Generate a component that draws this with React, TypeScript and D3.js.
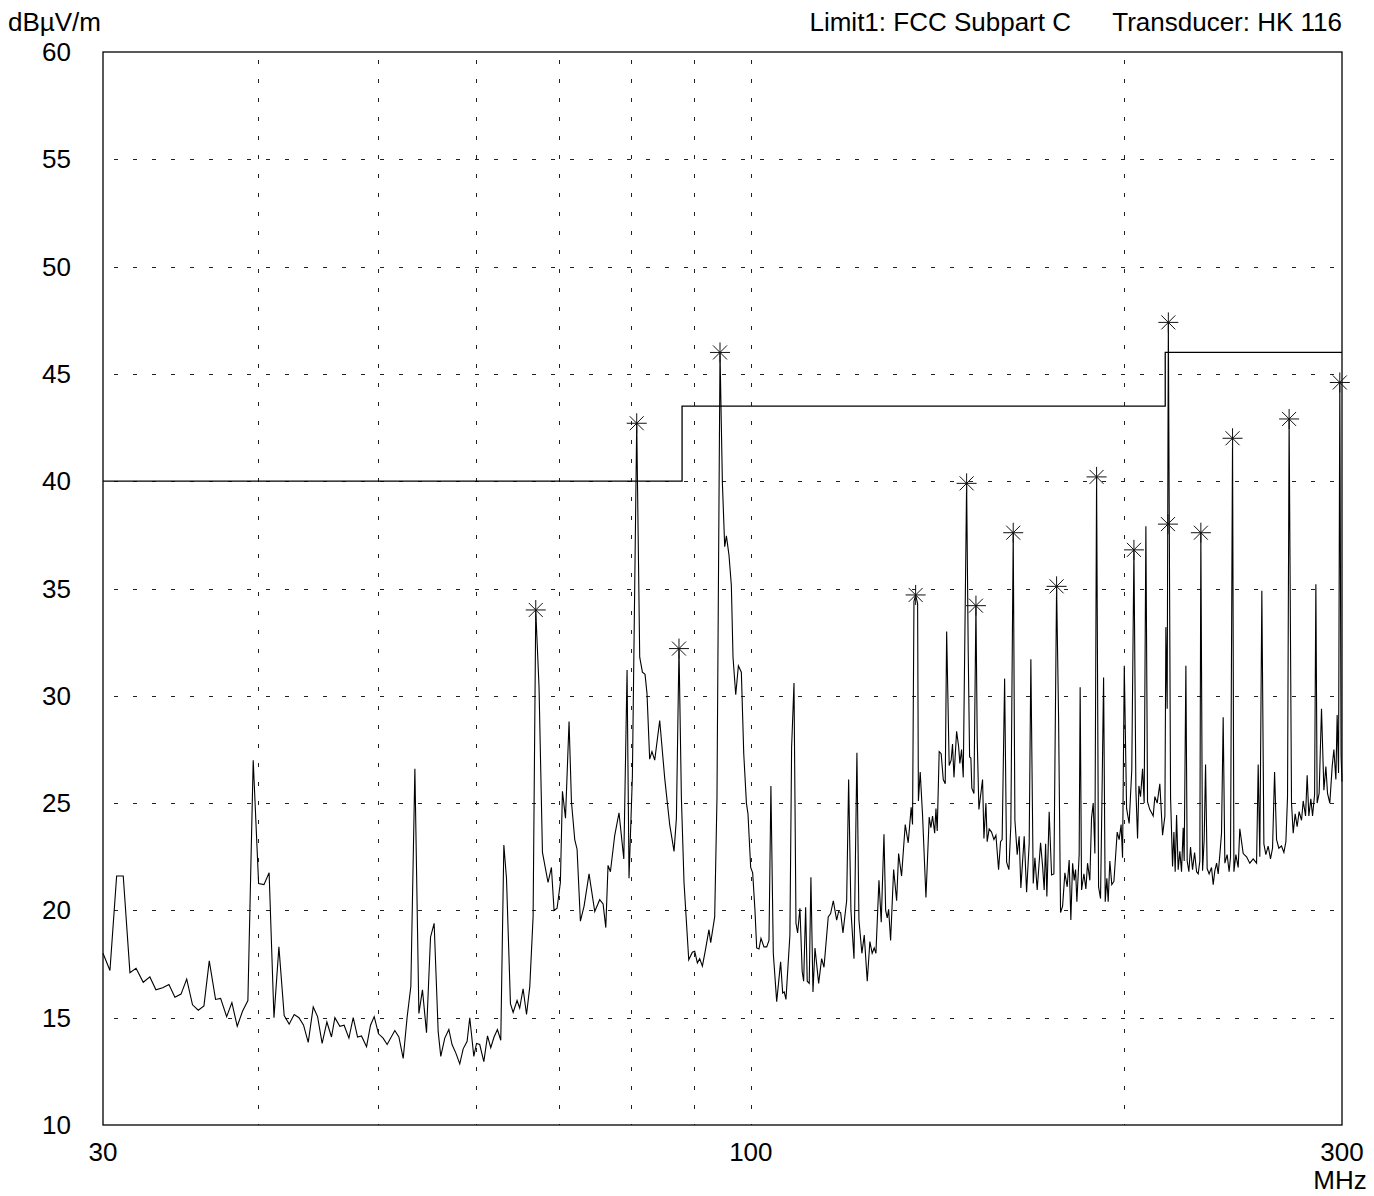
import React from 'react';
import * as d3 from 'd3';

const W = 1374;
const H = 1196;
const PLOT = { left: 103, right: 1342, top: 52, bottom: 1125 };

const unitLabel = 'dBµV/m';
const limitTitle = 'Limit1: FCC Subpart C';
const transducerTitle = 'Transducer: HK 116';
const xUnit = 'MHz';

const freqDomain = [30, 300];
const levelDomain = [10, 60];
const xTickLabels = [30, 100, 300];
const xGridFreqs = [40, 50, 60, 70, 80, 90, 100, 200];
const yTicks = [10, 15, 20, 25, 30, 35, 40, 45, 50, 55, 60];
const yGrid = [15, 20, 25, 30, 35, 40, 45, 50, 55];

// Limit line (FCC Subpart C): band edges (MHz) and levels (dBµV/m)
const limitEdges = [30, 88, 216, 300];
const limitLevels = [40, 43.5, 46];

// Measured sweep: frequency (MHz)
const sweepFreq = [
  30.00, 30.39, 30.77, 31.15, 31.54, 31.90, 32.33, 32.73, 33.10, 33.52,
  33.91, 34.29, 34.68, 35.05, 35.43, 35.81, 36.19, 36.55, 36.98, 37.33,
  37.75, 38.12, 38.50, 38.88, 39.27, 39.66, 40.06, 40.46, 40.85, 41.22,
  41.60, 42.01, 42.40, 42.80, 43.18, 43.55, 43.93, 44.34, 44.70, 45.08,
  45.48, 45.87, 46.16, 46.59, 46.96, 47.38, 47.76, 48.15, 48.50, 48.96,
  49.32, 49.66, 50.06, 50.49, 50.87, 51.60, 51.99, 52.41, 52.80, 53.16,
  53.56, 53.96, 54.32, 54.73, 55.14, 55.51, 55.93, 56.20, 56.62, 57.05,
  57.39, 57.80, 58.22, 58.59, 59.02, 59.31, 59.76, 60.06, 60.42, 60.88,
  61.30, 61.67, 62.05, 62.44, 62.83, 63.19, 63.50, 63.97, 64.29, 64.76,
  65.08, 65.49, 65.91, 66.31, 66.72, 67.05, 67.46, 67.89, 68.60, 69.03,
  69.37, 69.76, 70.19, 70.46, 70.86, 71.33, 71.65, 72.09, 72.40, 72.85,
  73.35, 74.03, 74.82, 75.51, 75.99, 76.37, 76.69, 77.03, 77.65, 78.27,
  78.97, 79.45, 79.74, 80.24, 80.89, 81.34, 81.75, 82.15, 82.45, 82.86,
  83.21, 83.64, 84.42, 85.21, 86.00, 86.70, 87.08, 87.50, 87.89, 88.32,
  89.10, 89.70, 90.09, 90.54, 90.93, 91.39, 91.90, 92.51, 92.81, 93.50,
  93.90, 94.43, 94.85, 95.26, 95.56, 96.02, 96.44, 96.74, 97.23, 97.71,
  98.25, 98.69, 99.18, 99.47, 99.97, 100.34, 100.77, 101.09, 101.52, 101.90,
  102.47, 102.99, 103.43, 103.80, 104.26, 104.92, 105.69, 106.09, 106.40, 106.74,
  107.53, 107.87, 108.35, 108.75, 109.08, 109.55, 110.01, 110.31, 110.72, 111.05,
  111.46, 111.81, 112.24, 112.66, 113.43, 114.06, 114.56, 115.47, 115.98, 116.56,
  117.29, 117.72, 118.16, 118.67, 119.49, 119.93, 120.44, 121.13, 121.79, 122.25,
  122.92, 123.46, 124.15, 124.76, 125.29, 125.77, 126.17, 126.88, 127.42, 128.07,
  128.47, 128.85, 129.18, 129.66, 130.39, 131.12, 131.60, 132.33, 133.23, 133.97,
  134.71, 135.05, 135.41, 135.83, 136.33, 136.53, 136.99, 137.60, 138.46, 139.30,
  139.74, 140.17, 140.72, 141.06, 141.39, 141.91, 142.43, 142.99, 143.51, 143.89,
  144.57, 145.10, 145.47, 145.86, 146.58, 147.12, 147.47, 147.94, 148.40, 149.33,
  149.78, 150.16, 150.52, 150.79, 151.38, 151.94, 152.30, 152.78, 153.82, 154.21,
  154.78, 155.15, 155.72, 156.41, 157.11, 157.69, 158.47, 159.05, 159.52, 160.26,
  160.85, 161.54, 162.13, 162.84, 163.35, 164.05, 164.65, 165.17, 166.20, 166.94,
  167.74, 168.27, 169.01, 169.54, 170.26, 171.33, 171.98, 172.49, 172.94, 173.35,
  174.09, 174.87, 175.63, 176.51, 177.16, 177.81, 178.49, 179.25, 180.02, 180.68,
  181.25, 181.84, 182.38, 182.85, 183.29, 184.07, 184.41, 184.89, 185.70, 186.39,
  186.96, 187.76, 188.35, 188.94, 189.53, 190.13, 190.83, 191.53, 192.12, 192.62,
  193.20, 193.79, 194.27, 194.87, 195.58, 196.35, 197.55, 198.27, 199.00, 199.53,
  200.17, 201.03, 201.99, 202.98, 203.79, 204.54, 205.17, 205.68, 206.31, 207.09,
  207.71, 208.37, 209.01, 209.90, 210.59, 211.22, 211.88, 212.79, 213.84, 214.93,
  215.86, 216.26, 216.78, 217.25, 218.15, 218.96, 219.51, 220.03, 220.60, 221.26,
  221.94, 222.64, 223.33, 223.74, 224.45, 224.99, 225.70, 226.39, 227.25, 228.11,
  228.96, 229.64, 230.35, 230.78, 231.51, 232.21, 232.81, 233.50, 234.36, 235.40,
  236.14, 236.87, 237.63, 238.34, 239.07, 239.82, 240.56, 241.31, 242.34, 243.23,
  243.86, 244.78, 245.40, 246.30, 247.35, 248.11, 249.68, 251.25, 252.77, 254.36,
  255.96, 256.73, 257.51, 258.48, 259.46, 260.42, 261.53, 262.67, 263.67, 264.67,
  265.65, 266.78, 268.10, 269.29, 270.29, 271.12, 271.92, 273.13, 273.98, 275.00,
  276.01, 277.02, 278.26, 279.13, 280.35, 281.19, 282.08, 283.12, 284.02, 285.10,
  285.78, 286.46, 287.51, 288.79, 290.07, 291.14, 292.04, 293.28, 294.57, 295.51,
  296.60, 297.31, 298.08, 298.78, 299.49, 300.00,
];

// Measured sweep: level (dBµV/m)
const sweepLevel = [
  18.0, 17.2, 21.6, 21.6, 17.1, 17.3, 16.65, 16.9, 16.3, 16.4,
  16.55, 15.95, 16.1, 16.8, 15.6, 15.35, 15.55, 17.65, 15.85, 15.9,
  15.05, 15.7, 14.6, 15.3, 15.8, 27.0, 21.25, 21.2, 21.75, 15.0,
  18.3, 15.1, 14.7, 15.15, 15.0, 14.65, 13.85, 15.5, 15.05, 13.8,
  14.8, 14.1, 15.0, 14.6, 14.65, 14.05, 15.0, 14.1, 14.15, 13.65,
  14.65, 15.05, 14.25, 14.05, 13.75, 14.4, 14.1, 13.1, 15.05, 16.45,
  26.6, 15.2, 16.3, 14.3, 18.75, 19.4, 14.35, 13.2, 14.05, 14.45,
  13.75, 13.35, 12.85, 13.55, 13.9, 15.0, 13.2, 13.8, 13.75, 12.95,
  14.15, 13.6, 14.1, 14.45, 13.95, 23.05, 21.5, 15.65, 15.25, 15.8,
  15.45, 16.35, 15.15, 16.45, 19.7, 34.0, 30.4, 22.7, 21.3, 22.0,
  20.0, 20.1, 21.3, 25.55, 24.3, 28.8, 25.05, 23.3, 22.85, 19.5,
  20.2, 21.7, 19.95, 20.5, 20.3, 19.2, 22.1, 21.8, 23.5, 24.55,
  22.4, 31.2, 21.5, 26.25, 42.7, 31.8, 31.1, 31.0, 30.1, 27.05,
  27.4, 27.0, 28.85, 26.15, 24.0, 22.75, 24.3, 32.2, 25.25, 21.3,
  17.7, 18.05, 18.1, 17.55, 17.75, 17.4, 18.15, 19.1, 18.5, 19.7,
  25.25, 46.0, 39.9, 36.95, 37.45, 36.55, 35.15, 31.8, 30.05, 31.4,
  31.1, 27.3, 25.0, 24.5, 22.0, 21.75, 20.0, 18.25, 18.2, 18.7,
  18.3, 18.3, 18.6, 25.8, 18.0, 15.75, 17.6, 16.15, 16.2, 15.85,
  18.85, 27.6, 30.6, 19.4, 18.95, 20.1, 17.15, 16.7, 20.15, 16.7,
  16.6, 21.55, 16.2, 18.25, 16.6, 17.75, 17.35, 19.7, 19.85, 20.45,
  19.55, 19.95, 19.9, 18.95, 20.45, 26.1, 20.0, 17.75, 27.35, 19.55,
  18.0, 18.85, 16.7, 18.55, 18.0, 18.25, 18.0, 21.4, 19.45, 23.55,
  20.0, 19.65, 20.05, 18.6, 21.9, 20.45, 22.65, 21.6, 24.0, 23.15,
  24.8, 24.0, 34.4, 34.7, 34.3, 25.1, 26.45, 24.4, 20.6, 24.35,
  23.85, 24.4, 23.6, 24.75, 23.7, 27.4, 27.3, 26.1, 25.9, 33.0,
  26.75, 27.0, 27.75, 26.2, 28.35, 27.65, 26.85, 27.5, 26.2, 39.9,
  32.0, 27.15, 27.1, 25.7, 25.45, 34.2, 28.0, 24.7, 26.1, 23.35,
  25.0, 23.2, 23.8, 23.65, 23.3, 23.5, 21.9, 23.2, 23.3, 30.8,
  22.25, 21.9, 24.0, 37.6, 24.2, 22.6, 23.45, 21.05, 23.45, 20.85,
  23.1, 31.7, 21.25, 22.45, 20.95, 23.15, 22.05, 20.95, 23.1, 20.65,
  24.6, 21.65, 21.7, 35.1, 29.0, 19.9, 20.2, 21.75, 21.1, 22.35,
  19.55, 22.2, 21.4, 21.9, 20.4, 22.6, 30.4, 20.95, 21.7, 21.0,
  22.2, 21.4, 24.3, 25.0, 22.65, 40.2, 21.1, 20.55, 26.0, 30.85,
  20.4, 21.5, 20.4, 22.3, 21.2, 21.35, 23.65, 23.3, 24.0, 22.45,
  31.4, 24.75, 24.05, 26.55, 36.8, 25.6, 23.35, 25.8, 25.3, 26.6,
  25.0, 37.9, 25.05, 24.7, 24.55, 24.4, 25.3, 25.0, 25.9, 23.5,
  24.4, 33.2, 29.4, 47.4, 25.25, 22.05, 23.65, 21.8, 24.45, 21.9,
  22.75, 21.8, 23.85, 22.3, 31.4, 22.3, 21.8, 22.95, 21.9, 22.7,
  21.8, 21.7, 22.3, 37.6, 21.85, 23.3, 26.8, 21.95, 21.7, 22.0,
  21.2, 21.85, 22.2, 21.7, 22.6, 23.6, 29.0, 22.2, 22.6, 21.8,
  22.5, 42.0, 21.8, 22.6, 22.0, 23.8, 22.65, 22.5, 22.2, 22.4,
  22.2, 26.8, 22.5, 34.9, 23.1, 22.6, 23.0, 22.4, 22.9, 26.45,
  23.3, 22.9, 23.0, 22.7, 23.2, 25.3, 42.9, 25.0, 23.6, 24.5,
  23.9, 24.6, 24.2, 25.1, 24.4, 26.3, 24.4, 25.2, 24.4, 25.4,
  35.2, 25.0, 25.45, 29.4, 25.6, 26.7, 25.45, 25.0, 26.7, 27.5,
  26.1, 29.1, 26.4, 44.6, 27.2, 26.0,
];

// Peak markers (asterisks)
const peakFreq = [67.05, 80.89, 87.50, 94.43, 135.83, 149.33, 151.94, 162.84, 176.51, 190.13, 203.79, 217.25, 217.10, 230.78, 244.78, 271.92, 298.78];
const peakLevel = [34.0, 42.7, 32.2, 46.0, 34.7, 39.9, 34.2, 37.6, 35.1, 40.2, 36.8, 47.4, 38.0, 37.6, 42.0, 42.9, 44.6];

const FONT = '"Liberation Sans", Arial, Helvetica, sans-serif';
const FS = 26;

export default function App() {
  const x = d3.scaleLog().domain(freqDomain).range([PLOT.left, PLOT.right]);
  const y = d3.scaleLinear().domain(levelDomain).range([PLOT.bottom, PLOT.top]);

  const n = Math.min(sweepFreq.length, sweepLevel.length);
  const tracePts: [number, number][] = d3.range(n).map((i) => [x(sweepFreq[i]), y(sweepLevel[i])]);
  const tracePath = d3.line()(tracePts) || '';

  const limitPts: [number, number][] = [];
  limitLevels.forEach((lv, i) => {
    limitPts.push([x(limitEdges[i]), y(lv)]);
    limitPts.push([x(limitEdges[i + 1]), y(lv)]);
  });
  const limitPath = d3.line()(limitPts) || '';

  const m = Math.min(peakFreq.length, peakLevel.length);
  const markers = d3.range(m).map((i) => ({ cx: x(peakFreq[i]), cy: y(peakLevel[i]) }));

  const R = 10;
  const D = 7;

  return (
    <svg
      width={W}
      height={H}
      viewBox={`0 0 ${W} ${H}`}
      style={{ position: 'absolute', left: 0, top: 0, background: '#fff' }}
      fontFamily={FONT}
    >
      <rect x={0} y={0} width={W} height={H} fill="#fff" />
      {/* grid */}
      <g stroke="#222" strokeWidth={1} shapeRendering="crispEdges">
        {yGrid.map((v) => (
          <line key={'hy' + v} x1={PLOT.left} x2={PLOT.right} y1={Math.round(y(v)) + 0.5} y2={Math.round(y(v)) + 0.5} strokeDasharray="4 15" strokeDashoffset={-11} />
        ))}
        {xGridFreqs.map((f) => (
          <line key={'vx' + f} x1={Math.round(x(f)) + 0.5} x2={Math.round(x(f)) + 0.5} y1={PLOT.top} y2={PLOT.bottom} strokeDasharray="4 15" strokeDashoffset={-8} />
        ))}
      </g>
      {/* frame */}
      <rect x={PLOT.left} y={PLOT.top} width={PLOT.right - PLOT.left} height={PLOT.bottom - PLOT.top} fill="none" stroke="#000" strokeWidth={1.3} />
      {/* limit */}
      <path d={limitPath} fill="none" stroke="#000" strokeWidth={1.3} />
      {/* trace */}
      <path d={tracePath} fill="none" stroke="#000" strokeWidth={1.1} strokeLinejoin="miter" />
      {/* markers */}
      <g stroke="#111" strokeWidth={1}>
        {markers.map((mk, i) => (
          <g key={'mk' + i}>
            <line x1={mk.cx - R} x2={mk.cx + R} y1={mk.cy} y2={mk.cy} />
            <line x1={mk.cx} x2={mk.cx} y1={mk.cy - R} y2={mk.cy + R} />
            <line x1={mk.cx - D} x2={mk.cx + D} y1={mk.cy - D} y2={mk.cy + D} />
            <line x1={mk.cx - D} x2={mk.cx + D} y1={mk.cy + D} y2={mk.cy - D} />
          </g>
        ))}
      </g>
      {/* y labels */}
      <g fontSize={FS} fill="#000" textAnchor="end">
        {yTicks.map((v) => (
          <text key={'yl' + v} x={71} y={y(v) + 9}>{v}</text>
        ))}
      </g>
      {/* x labels */}
      <g fontSize={FS} fill="#000" textAnchor="middle">
        {xTickLabels.map((f) => (
          <text key={'xl' + f} x={x(f)} y={1161}>{f}</text>
        ))}
        <text x={1340} y={1189}>{xUnit}</text>
      </g>
      {/* header */}
      <text x={8} y={31} fontSize={FS} fill="#000">{unitLabel}</text>
      <text x={1071} y={31} fontSize={FS} fill="#000" textAnchor="end">{limitTitle}</text>
      <text x={1342} y={31} fontSize={FS} fill="#000" textAnchor="end">{transducerTitle}</text>
    </svg>
  );
}
